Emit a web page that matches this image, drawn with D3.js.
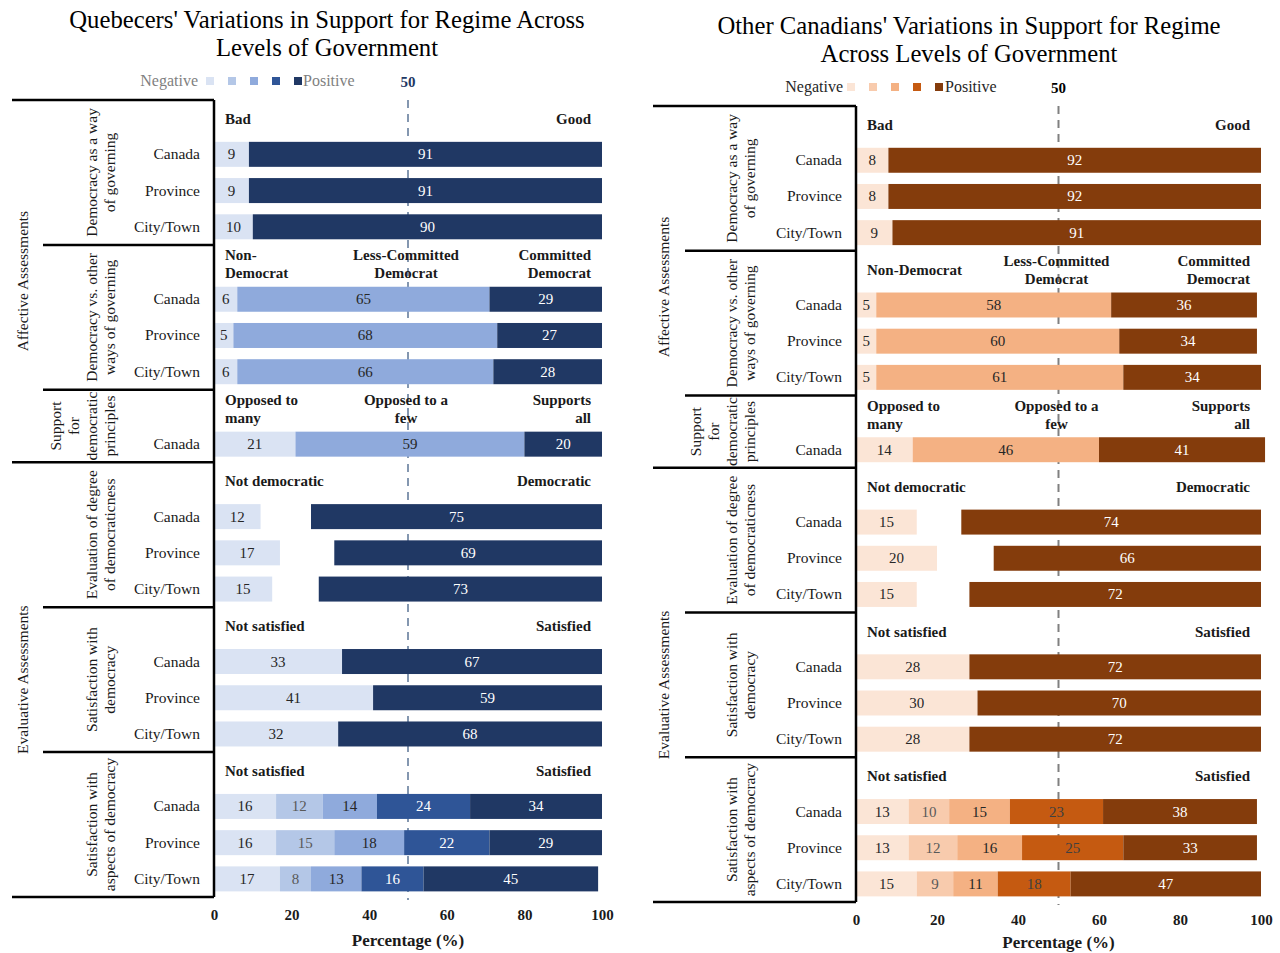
<!DOCTYPE html>
<html>
<head>
<meta charset="utf-8">
<script src="https://cdn.jsdelivr.net/npm/d3@7"></script>
<style>
  html, body { margin: 0; padding: 0; background: #fff; }
  svg { display: block; }
  text { font-family: "Liberation Serif", "Times New Roman", serif; }
</style>
</head>
<body>
<svg id="chart" width="1280" height="953"></svg>
<script>
// ---- data -------------------------------------------------------------
const levels = ["Canada", "Province", "City/Town"];
const tickValues = [0, 20, 40, 60, 80, 100];

// Quebec respondents (percent by response category)
const qcWayOfGoverning = [[9, 91], [9, 91], [10, 90]];
const qcVsOtherWays    = [[6, 65, 29], [5, 68, 27], [6, 66, 28]];
const qcPrinciples     = [[21, 59, 20]];
const qcDegree         = [[12, 13, 75], [17, 14, 69], [15, 12, 73]]; // middle share left blank
const qcSatisfaction   = [[33, 67], [41, 59], [32, 68]];
const qcAspects        = [[16, 12, 14, 24, 34], [16, 15, 18, 22, 29], [17, 8, 13, 16, 45]];

// Respondents in the rest of Canada
const rocWayOfGoverning = [[8, 92], [8, 92], [9, 91]];
const rocVsOtherWays    = [[5, 58, 36], [5, 60, 34], [5, 61, 34]];
const rocPrinciples     = [[14, 46, 41]];
const rocDegree         = [[15, 11, 74], [20, 14, 66], [15, 13, 72]];
const rocSatisfaction   = [[28, 72], [30, 70], [28, 72]];
const rocAspects        = [[13, 10, 15, 23, 38], [13, 12, 16, 25, 33], [15, 9, 11, 18, 47]];

// ---- measure definitions ---------------------------------------------
// shade index per response category (null = not drawn)
const measures = [
  { outer: 0, label: ["Democracy as a way", "of governing"], shades: [0, 4],
    headers: { qc: ["Bad", "Good"], roc: ["Bad", "Good"] } },
  { outer: 0, label: ["Democracy vs. other", "ways of governing"], shades: [0, 2, 4],
    headers: { qc: ["Non-\nDemocrat", "Less-Committed\nDemocrat", "Committed\nDemocrat"],
               roc: ["Non-Democrat", "Less-Committed\nDemocrat", "Committed\nDemocrat"] } },
  { outer: 0, label: ["Support", "for", "democratic", "principles"], shades: [0, 2, 4],
    headers: { qc: ["Opposed to\nmany", "Opposed to a\nfew", "Supports\nall"],
               roc: ["Opposed to\nmany", "Opposed to a\nfew", "Supports\nall"] } },
  { outer: 1, label: ["Evaluation of degree", "of democraticness"], shades: [0, null, 4],
    headers: { qc: ["Not democratic", "Democratic"], roc: ["Not democratic", "Democratic"] } },
  { outer: 1, label: ["Satisfaction with", "democracy"], shades: [0, 4],
    headers: { qc: ["Not satisfied", "Satisfied"], roc: ["Not satisfied", "Satisfied"] } },
  { outer: 1, label: ["Satisfaction with", "aspects of democracy"], shades: [0, 1, 2, 3, 4],
    headers: { qc: ["Not satisfied", "Satisfied"], roc: ["Not satisfied", "Satisfied"] } }
];
const outerLabels = ["Affective Assessments", "Evaluative Assessments"];

const panels = [
  {
    key: "qc",
    title: ["Quebecers' Variations in Support for Regime Across", "Levels of Government"],
    data: [qcWayOfGoverning, qcVsOtherWays, qcPrinciples, qcDegree, qcSatisfaction, qcAspects],
    palette: ["#dae3f3", "#b4c7e7", "#8faadc", "#2f5597", "#203864"],
    labelInk: ["#262626", "#595959", "#262626", "#ffffff", "#ffffff"],
    x0: 214, x1: 602, top: 100, bottom: 897,
    outerX: 12, groupX: 43, rowLabelX: 200, groupLabelX: 110, outerLabelX: 23,
    titleX: 327, titleY: 28, legendY: 81, legendText: "#7f7f7f",
    fiftyColor: "#1f3864", dashColor: "#8497b0",
    negEnd: 198, swatch0: 206, posStart: 303, tickY: 920, axisTitleY: 946
  },
  {
    key: "roc",
    title: ["Other Canadians' Variations in Support for Regime", "Across Levels of Government"],
    data: [rocWayOfGoverning, rocVsOtherWays, rocPrinciples, rocDegree, rocSatisfaction, rocAspects],
    palette: ["#fbe5d6", "#f8cbad", "#f4b183", "#c55a11", "#843c0c"],
    labelInk: ["#262626", "#595959", "#262626", "#404040", "#ffffff"],
    x0: 856, x1: 1261, top: 106, bottom: 902,
    outerX: 653, groupX: 685, rowLabelX: 842, groupLabelX: 750, outerLabelX: 664,
    titleX: 969, titleY: 34, legendY: 87, legendText: "#262626",
    fiftyColor: "#000000", dashColor: "#808080",
    negEnd: 843, swatch0: 847, posStart: 945, tickY: 925, axisTitleY: 948
  }
];

const svg = d3.select("#chart");

function drawPanel(p) {
  const g = svg.append("g");
  const x = d3.scaleLinear().domain([0, 100]).range([p.x0, p.x1]);

  // one header slot per measure plus one slot per row
  const slots = [];
  measures.forEach((m, mi) => {
    slots.push({ type: "header", mi });
    p.data[mi].forEach((row, ri) => slots.push({ type: "row", mi, ri }));
  });
  const y = d3.scaleBand().domain(d3.range(slots.length)).range([p.top, p.bottom]);
  const bw = y.bandwidth();
  const barH = bw * 0.69;

  // title
  g.append("text")
    .attr("x", p.titleX).attr("y", p.titleY)
    .attr("text-anchor", "middle").attr("font-size", 24.7).attr("fill", "#000")
    .selectAll("tspan").data(p.title).join("tspan")
    .attr("x", p.titleX).attr("dy", (d, i) => i === 0 ? 0 : 28).text(d => d);

  // legend
  const lg = g.append("g");
  lg.append("text").attr("x", p.negEnd).attr("y", p.legendY + 5)
    .attr("text-anchor", "end").attr("font-size", 16).attr("fill", p.legendText).text("Negative");
  lg.selectAll("rect").data(p.palette).join("rect")
    .attr("x", (d, i) => p.swatch0 + i * 22).attr("y", p.legendY - 4)
    .attr("width", 8).attr("height", 8).attr("fill", d => d);
  lg.append("text").attr("x", p.posStart).attr("y", p.legendY + 5)
    .attr("font-size", 16).attr("fill", p.legendText).text("Positive");
  g.append("text").attr("x", x(50)).attr("y", p.legendY + 6)
    .attr("text-anchor", "middle").attr("font-size", 15).attr("font-weight", "bold")
    .attr("fill", p.fiftyColor).text("50");

  // 50% reference line (behind bars)
  g.append("line")
    .attr("x1", x(50)).attr("x2", x(50))
    .attr("y1", p.top).attr("y2", p.bottom + 3)
    .attr("stroke", p.dashColor).attr("stroke-width", 2)
    .attr("stroke-dasharray", "8,6");

  // category headers
  slots.forEach((s, si) => {
    if (s.type !== "header") return;
    const hs = measures[s.mi].headers[p.key];
    const cy = y(si) + bw / 2 + 1;
    hs.forEach((h, hi) => {
      let anchor, hx;
      if (hi === 0) { anchor = "start"; hx = x(0) + 11; }
      else if (hi === hs.length - 1) { anchor = "end"; hx = x(100) - 11; }
      else { anchor = "middle"; hx = x(50) - 2; }
      const lines = h.split("\n");
      const t = g.append("text").attr("text-anchor", anchor)
        .attr("font-size", 15).attr("font-weight", "bold").attr("fill", "#1a1a1a");
      lines.forEach((ln, li) => {
        t.append("tspan").attr("x", hx)
          .attr("y", cy + 5 + (li - (lines.length - 1) / 2) * 18)
          .text(ln);
      });
    });
  });

  // stacked bars
  const rowSlots = slots.map((s, si) => Object.assign({ si }, s)).filter(s => s.type === "row");
  rowSlots.forEach(s => {
    const vals = p.data[s.mi][s.ri];
    const shades = measures[s.mi].shades;
    let acc = 0;
    const segs = vals.map((v, k) => {
      const seg = { start: acc, end: acc + v, v, shade: shades[k] };
      acc += v;
      return seg;
    }).filter(d => d.shade !== null);
    const by = y(s.si) + (bw - barH) / 2;
    const rg = g.append("g");
    rg.selectAll("rect").data(segs).join("rect")
      .attr("x", d => x(d.start)).attr("y", by)
      .attr("width", d => x(d.end) - x(d.start)).attr("height", barH)
      .attr("fill", d => p.palette[d.shade]);
    rg.selectAll("text").data(segs).join("text")
      .attr("x", d => (x(d.start) + x(d.end)) / 2)
      .attr("y", by + barH / 2 + 5)
      .attr("text-anchor", "middle").attr("font-size", 15)
      .attr("fill", d => p.labelInk[d.shade])
      .text(d => d.v);
  });

  // level labels along the category axis
  rowSlots.forEach(s => {
    g.append("text").attr("x", p.rowLabelX).attr("y", y(s.si) + bw / 2 + 5)
      .attr("text-anchor", "end").attr("font-size", 15.5).attr("fill", "#1a1a1a")
      .text(levels[s.ri]);
  });

  // x axis labels
  const xAxis = d3.axisBottom(x).tickValues(tickValues).tickSize(0).tickPadding(0);
  const ax = g.append("g").attr("transform", `translate(0,${p.tickY - 11})`).call(xAxis);
  ax.select(".domain").remove();
  ax.selectAll("text").attr("font-family", "Liberation Serif, serif")
    .attr("font-size", 15).attr("font-weight", "bold").attr("fill", "#1a1a1a");
  g.append("text").attr("x", x(50)).attr("y", p.axisTitleY)
    .attr("text-anchor", "middle").attr("font-size", 17).attr("font-weight", "bold")
    .attr("fill", "#1a1a1a").text("Percentage (%)");

  // group boundaries
  const groupStart = [];
  slots.forEach((s, si) => { if (s.type === "header") groupStart.push(si); });
  const groupEdges = groupStart.map((si, i) => {
    const endSi = i + 1 < groupStart.length ? groupStart[i + 1] : slots.length;
    return { mi: slots[si].mi, y0: y(si), y1: endSi < slots.length ? y(endSi) : p.bottom };
  });

  const lines = g.append("g").attr("stroke", "#000").attr("stroke-width", 2.5);
  lines.append("line").attr("x1", p.x0).attr("x2", p.x0).attr("y1", p.top).attr("y2", p.bottom);
  groupEdges.forEach((ge, i) => {
    const outerBreak = i === 0 || measures[ge.mi].outer !== measures[groupEdges[i - 1].mi].outer;
    lines.append("line")
      .attr("x1", outerBreak ? p.outerX : p.groupX).attr("x2", p.x0)
      .attr("y1", ge.y0).attr("y2", ge.y0);
  });
  lines.append("line").attr("x1", p.outerX).attr("x2", p.x0).attr("y1", p.bottom).attr("y2", p.bottom);

  // rotated measure labels
  groupEdges.forEach(ge => {
    const lab = measures[ge.mi].label;
    const cy = (ge.y0 + ge.y1) / 2;
    lab.forEach((ln, li) => {
      const lx = p.groupLabelX - 18 * (lab.length - 1 - li);
      g.append("text")
        .attr("transform", `translate(${lx},${cy}) rotate(-90)`)
        .attr("text-anchor", "middle").attr("dy", "0.35em")
        .attr("font-size", 15.5).attr("fill", "#1a1a1a").text(ln);
    });
  });

  // outer assessment labels
  outerLabels.forEach((ol, oi) => {
    const ges = groupEdges.filter(ge => measures[ge.mi].outer === oi);
    const cy = (ges[0].y0 + ges[ges.length - 1].y1) / 2;
    g.append("text")
      .attr("transform", `translate(${p.outerLabelX},${cy}) rotate(-90)`)
      .attr("text-anchor", "middle").attr("dy", "0.35em")
      .attr("font-size", 15.5).attr("fill", "#1a1a1a").text(ol);
  });
}

panels.forEach(drawPanel);
</script>
</body>
</html>
